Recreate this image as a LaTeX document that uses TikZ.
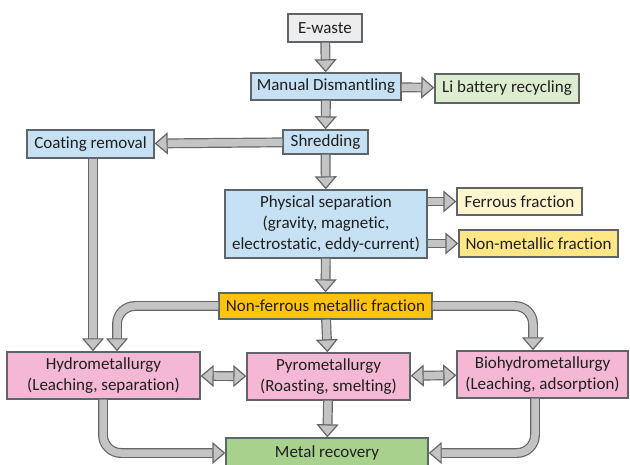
\documentclass[tikz,border=0pt]{standalone}
\usepackage{fontspec}
\setmainfont{Carlito}[Ligatures=NoCommon]
\usetikzlibrary{arrows.meta}
\definecolor{bluef}{HTML}{C6E0F4}
\definecolor{grayf}{HTML}{EDEDED}
\definecolor{pinkf}{HTML}{F4B8D4}
\definecolor{ltgreen}{HTML}{DCEDD0}
\definecolor{dkgreen}{HTML}{A9D18E}
\definecolor{cream}{HTML}{FFF6CF}
\definecolor{yell}{HTML}{FFE785}
\definecolor{gold}{HTML}{FFC20E}
\definecolor{edge}{HTML}{5E6468}
\definecolor{arrin}{HTML}{C4C4C4}
\definecolor{arrout}{HTML}{666666}
\begin{document}
\begin{tikzpicture}[x=1pt,y=-1pt,
  box/.style={draw=edge, line width=1.4pt, inner sep=2pt, align=center,
    font=\fontsize{17}{21}\selectfont, text=black!88},
  tip/.tip={Triangle[length=13pt,width=22pt,fill=arrin,line width=1.2pt]},
  fat/.style={draw=arrout, line width=1.2pt, double=arrin, double distance=7.5pt,
    -tip, rounded corners=18pt},
  fatboth/.style={draw=arrout, line width=1.2pt, double=arrin, double distance=7.5pt,
    tip-tip}]
\useasboundingbox (0,0) rectangle (630,465);
\fill[white] (0,0) rectangle (630,465);
% nodes
\node[box, fill=grayf, minimum width=74pt, minimum height=28pt] (ew) at (325,28) {E-waste};
\node[box, fill=bluef, minimum width=150pt, minimum height=27pt] (md) at (326,86.5) {Manual Dismantling};
\node[box, fill=ltgreen, minimum width=144pt, minimum height=29pt] (li) at (507,88.5) {Li battery recycling};
\node[box, fill=bluef, minimum width=85pt, minimum height=24pt] (sh) at (325.5,142) {Shredding};
\node[box, fill=bluef, minimum width=127pt, minimum height=28pt] (cr) at (90.5,144) {Coating removal};
\node[box, fill=bluef, minimum width=202pt, minimum height=68pt] (ps) at (326,224) {Physical separation\\(gravity, magnetic,\\electrostatic, eddy-current)};
\node[box, fill=cream, minimum width=125pt, minimum height=27pt] (ff) at (519.5,201.5) {Ferrous fraction};
\node[box, fill=yell, minimum width=159pt, minimum height=27pt] (nm) at (538.5,243.5) {Non-metallic fraction};
\node[box, fill=gold, minimum width=213pt, minimum height=26pt] (nf) at (325.5,306) {Non-ferrous metallic fraction};
\node[box, fill=pinkf, minimum width=193pt, minimum height=47pt] (hy) at (103.5,375.5) {Hydrometallurgy\\(Leaching, separation)};
\node[box, fill=pinkf, minimum width=163pt, minimum height=47pt] (py) at (328.5,376.5) {Pyrometallurgy\\(Roasting, smelting)};
\node[box, fill=pinkf, minimum width=171pt, minimum height=47pt] (bi) at (542.5,374.5) {Biohydrometallurgy\\(Leaching, adsorption)};
\node[box, fill=dkgreen, minimum width=202pt, minimum height=30pt] (mr) at (327,453) {Metal recovery};
% connectors
\draw[fat] (ew) -- (md);
\draw[fat] (md) -- (li);
\draw[fat] (md) -- (sh);
\draw[fat] (sh) -- (cr);
\draw[fat] (sh) -- (ps);
\draw[fat] (ps.east |- ff) -- (ff);
\draw[fat] (ps.east |- nm) -- (nm);
\draw[fat] (ps) -- (nf);
\draw[fat] (cr.south -| 93,0) -- (hy.north -| 93,0);
\draw[fat] (nf.west) -| (hy.north -| 117,0);
\draw[fat] (nf.east) -| (bi.north -| 533,0);
\draw[fat] (nf) -- (py);
\draw[fatboth] (hy) -- (py);
\draw[fatboth] (py) -- (bi);
\draw[fat] (py) -- (mr);
\draw[fat] (hy.south -| 103,0) |- (mr.west);
\draw[fat] (bi.south -| 535,0) |- (mr.east);
\end{tikzpicture}
\end{document}
